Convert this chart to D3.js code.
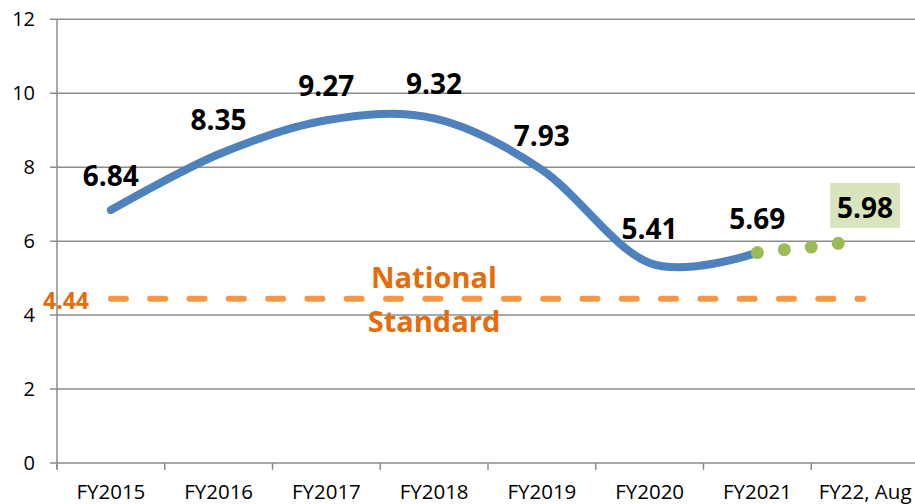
<!DOCTYPE html>
<html>
<head>
<meta charset="utf-8">
<script src="https://cdn.jsdelivr.net/npm/d3@7"></script>
<style>
  body { margin: 0; background: #fff; }
  svg { display: block; font-family: "Open Sans", sans-serif; }
</style>
</head>
<body>
<script>
/* ---------------------------- */
/* DATA                         */
/* ---------------------------- */

const categories = ["FY2015", "FY2016", "FY2017", "FY2018", "FY2019", "FY2020", "FY2021", "FY22, Aug"];
const yearlyValues = [6.84, 8.35, 9.27, 9.32, 7.93, 5.41, 5.69]; // blue smoothed line
const fy22Positions = [6, 6.25, 6.5, 6.75];      // category index of the green dots
const fy22Values = [5.69, 5.77, 5.84, 5.94];     // green dots
const fy22Label = {cat: "FY22, Aug", value: 5.98}; // boxed label
const nationalStandard = 4.44;
const yTicks = [0, 2, 4, 6, 8, 10, 12];

/* ---------------------------- */
/* CANVAS                       */
/* ---------------------------- */

const w = 915, h = 504;
const plot = {left: 57, right: 919, top: 19.3, bottom: 463};

const svg = d3.select("body").append("svg")
    .attr("width", w)
    .attr("height", h);

// category centres, Excel style (ticks between categories)
const x = d3.scalePoint()
    .domain(categories)
    .range([plot.left, plot.right])
    .padding(0.5);
const step = x.step();
const xi = d3.scaleLinear()
    .domain([0, categories.length - 1])
    .range([x(categories[0]), x(categories[categories.length - 1])]);

const y = d3.scaleLinear()
    .domain([0, 12])
    .range([plot.bottom, plot.top]);

// gridlines
svg.append("g")
    .selectAll("line")
    .data(yTicks)
    .join("line")
        .attr("x1", plot.left - 7)
        .attr("x2", w)
        .attr("y1", d => y(d))
        .attr("y2", d => y(d))
        .attr("stroke", "#8c8c8c")
        .attr("stroke-width", 1.5);

// y axis labels
svg.append("g")
    .attr("transform", "translate(" + plot.left + ",0)")
    .call(d3.axisLeft(y).tickValues(yTicks).tickSize(0).tickPadding(22))
    .call(g => g.select(".domain").remove())
    .selectAll("text")
        .attr("font-size", "20px")
        .attr("font-family", "Open Sans, sans-serif")
        .attr("fill", "#000");

// y axis line
svg.append("line")
    .attr("x1", plot.left).attr("x2", plot.left)
    .attr("y1", plot.top).attr("y2", plot.bottom + 6)
    .attr("stroke", "#8c8c8c")
    .attr("stroke-width", 1.5);

// x tick marks between categories
svg.append("g")
    .selectAll("line")
    .data(d3.range(categories.length + 1))
    .join("line")
        .attr("x1", i => x(categories[0]) - step / 2 + i * step)
        .attr("x2", i => x(categories[0]) - step / 2 + i * step)
        .attr("y1", plot.bottom)
        .attr("y2", plot.bottom + 7)
        .attr("stroke", "#8c8c8c")
        .attr("stroke-width", 1.5);

// x labels
svg.append("g")
    .selectAll("text")
    .data(categories)
    .join("text")
        .attr("x", d => x(d))
        .attr("y", 499)
        .attr("text-anchor", "middle")
        .attr("font-size", "20.5px")
        .attr("fill", "#000")
        .text(d => d);

/* ---------------------------- */
/* NATIONAL STANDARD            */
/* ---------------------------- */

svg.append("line")
    .attr("x1", x(categories[0]))
    .attr("x2", x(categories[categories.length - 1]) - 2)
    .attr("y1", y(nationalStandard))
    .attr("y2", y(nationalStandard))
    .attr("stroke", "#f79646")
    .attr("stroke-width", 6)
    .attr("stroke-linecap", "round")
    .attr("stroke-dasharray", "15,24.3");

svg.append("text")
    .attr("x", 66)
    .attr("y", y(nationalStandard) + 10)
    .attr("text-anchor", "middle")
    .attr("font-size", "23px")
    .attr("font-weight", "bold")
    .attr("fill", "#e46c0a")
    .text(nationalStandard.toFixed(2));

svg.append("g")
    .selectAll("text")
    .data(["National", "Standard"])
    .join("text")
        .attr("x", 434)
        .attr("y", (d, i) => y(nationalStandard) - 11 + i * 44)
        .attr("text-anchor", "middle")
        .attr("font-size", "29px")
        .attr("font-weight", "bold")
        .attr("fill", "#e46c0a")
        .text(d => d);

/* ---------------------------- */
/* SERIES                       */
/* ---------------------------- */

const line = d3.line()
    .x((d, i) => x(categories[i]))
    .y(d => y(d))
    .curve(d3.curveCardinal.tension(0));

svg.append("path")
    .datum(yearlyValues)
    .attr("d", line)
    .attr("fill", "none")
    .attr("stroke", "#4f81bd")
    .attr("stroke-width", 8)
    .attr("stroke-linecap", "round");

svg.append("g")
    .selectAll("circle")
    .data(fy22Values)
    .join("circle")
        .attr("cx", (d, i) => xi(fy22Positions[i]))
        .attr("cy", d => y(d))
        .attr("r", 6.5)
        .attr("fill", "#9bbb59");

// data labels
svg.append("g")
    .selectAll("text")
    .data(yearlyValues)
    .join("text")
        .attr("x", (d, i) => x(categories[i]))
        .attr("y", d => y(d) - 24)
        .attr("text-anchor", "middle")
        .attr("font-size", "28px")
        .attr("font-weight", "bold")
        .attr("fill", "#000")
        .text(d => d.toFixed(2));

// boxed FY22 label
const lx = x(fy22Label.cat), ly = y(fy22Label.value) - 24;
svg.append("rect")
    .attr("x", lx - 35)
    .attr("y", ly - 35)
    .attr("width", 70)
    .attr("height", 45)
    .attr("fill", "#d7e4bd");
svg.append("text")
    .attr("x", lx)
    .attr("y", ly)
    .attr("text-anchor", "middle")
    .attr("font-size", "28px")
    .attr("font-weight", "bold")
    .attr("fill", "#000")
    .text(fy22Label.value.toFixed(2));
</script>
</body>
</html>
